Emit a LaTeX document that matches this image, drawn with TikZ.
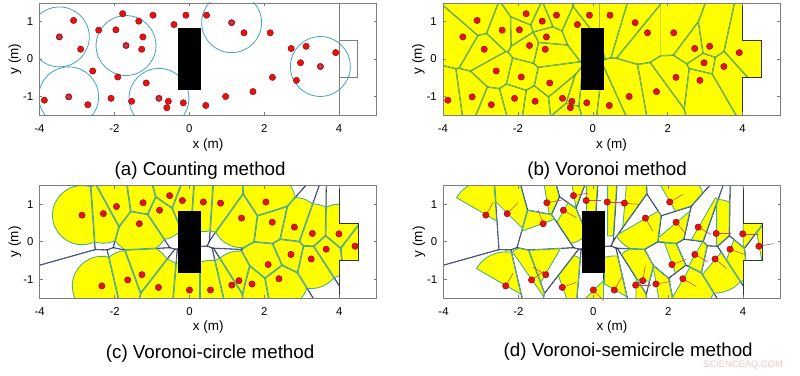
\documentclass[tikz,border=0pt]{standalone}
\usepackage{fontspec}
\setmainfont{Liberation Sans}
\usetikzlibrary{calc}

\definecolor{vyellow}{RGB}{255,255,0}
\definecolor{edgegreen}{RGB}{80,160,95}
\definecolor{celledge}{RGB}{70,170,155}
\definecolor{voronoidark}{RGB}{40,50,90}
\definecolor{circteal}{RGB}{70,165,195}
\definecolor{dotred}{RGB}{225,20,20}
\definecolor{dotrim}{RGB}{165,0,0}
\definecolor{dotcore}{RGB}{110,100,140}
\definecolor{framegray}{RGB}{125,125,125}
\definecolor{headred}{RGB}{210,70,70}
\definecolor{markpink}{RGB}{242,196,204}

% pedestrians, frames (a) and (b)
\def\ptsA{-3.09/1.03, -3.47/0.59, -2.90/0.26, -3.87/-1.10, -3.22/-1.01, -2.71/-1.22,
  -2.58/-0.32, -2.42/0.77, -1.96/0.78, -1.78/1.21, -1.69/0.36, -1.35/1.01, -1.24/0.59,
  -1.27/0.26, -1.91/-0.48, -2.09/-1.05, -1.54/-1.13, -1.15/-0.64, -0.97/1.17, -0.41/0.92,
  -0.09/1.17, 0.46/1.17, -0.81/-1.05, -0.56/-1.13, -0.60/-1.30, -0.16/-1.17, 0.44/-1.24,
  0.97/-1.00, 1.70/-0.87, 1.13/0.97, 1.46/0.70, 2.16/0.70, 2.72/0.28, 3.12/0.34,
  2.97/-0.10, 3.50/-0.20, 3.91/0.17, 2.86/-0.57, 2.22/-0.49}
\def\ctrA{-3.47/0.59, -3.22/-1.01, -1.69/0.36, -0.81/-1.05, 1.13/0.97, 3.50/-0.20}
% pedestrians, frames (c) and (d)
\def\ptsC{-2.87/0.71, -2.30/0.75, -1.95/0.94, -1.24/1.04, -0.53/1.23, -0.19/1.10,
  0.37/1.06, 0.83/1.03, -0.80/0.84, -1.34/0.48, 2.04/1.06, 1.39/0.63, 2.21/0.52,
  2.80/0.39, 3.28/0.22, 3.99/0.21, 4.42/-0.12, 3.65/-0.20, 3.25/-0.46, 2.71/-0.34,
  2.10/-0.61, 2.39/-0.99, 1.67/-1.13, 1.32/-1.04, 1.13/-1.16, 0.56/-1.29, 0.00/-1.29,
  -0.83/-1.22, -1.27/-0.88, -1.65/-1.02, -2.34/-1.18}
\def\ptsD{-2.87/0.71, -2.30/0.75, -1.24/1.04, -0.53/1.23, -0.19/1.10,
  0.37/1.06, 0.83/1.03, -0.80/0.84, -1.34/0.48, 2.04/1.06, 1.39/0.63, 2.21/0.52,
  2.80/0.39, 3.28/0.22, 3.99/0.21, 4.42/-0.12, 3.65/-0.20, 3.25/-0.46, 2.71/-0.34,
  2.10/-0.61, 2.39/-0.99, 1.67/-1.13, 1.32/-1.04, 1.13/-1.16, 0.56/-1.29, 0.00/-1.29,
  -0.83/-1.22, -1.27/-0.88, -1.65/-1.02, -2.34/-1.18}
\def\hdgD{60,45,10,10,0,0,-5,-30,110,30,-60,-50,-30,0,0,10,-20,-40,-30,20,-30,10,80,0,60,-45,20,150,35,60}

\newcommand{\roomclip}{\clip (-4,-1.5) -- (4,-1.5) -- (4,-0.5) -- (4.5,-0.5) -- (4.5,0.5)
  -- (4,0.5) -- (4,1.5) -- (-4,1.5) -- cycle;}
\newcommand{\roomwall}[1]{\draw[#1] (4,1.5) -- (4,0.5) -- (4.5,0.5) -- (4.5,-0.5) -- (4,-0.5) -- (4,-1.5);}

% #1 cell number, #2/#3 its pedestrian, #4 all pedestrians
\newcommand{\cellclip}[4]{%
  \foreach \px/\py [count=\otherno] in #4 {%
    \ifnum\otherno=#1\relax\else
      \coordinate (mid) at ($(#2,#3)!0.5!(\px,\py)$);
      \clip ($(mid)!40cm!90:(\px,\py)$) -- ($(mid)!80cm!180:(\px,\py)$)
        -- ($(mid)!40cm!-90:(\px,\py)$) -- cycle;
    \fi}}
\newcommand{\celledges}[5]{%
  \foreach \px/\py [count=\otherno] in #4 {%
    \ifnum\otherno=#1\relax\else
      \coordinate (mid) at ($(#2,#3)!0.5!(\px,\py)$);
      \draw[#5] ($(mid)!40cm!90:(\px,\py)$) -- ($(mid)!40cm!-90:(\px,\py)$);
    \fi}}

\newcommand{\axesbox}[1]{%
  \draw[framegray, line width=0.5pt] (-4,-1.5) rectangle (5,1.5);
  \foreach \t [count=\n] in {-4,-2,0,2,4} {%
    \draw[framegray, line width=0.5pt] (\t,-1.5) -- ++(0,0.08) (\t,1.5) -- ++(0,-0.08);
    \node[ticklabel] (#1x\n) at (\t,-1.86) {\t};}
  \foreach \t [count=\n] in {-1,0,1} {%
    \draw[framegray, line width=0.5pt] (-4,\t) -- ++(0.08,0) (5,\t) -- ++(-0.08,0);
    \node[ticklabel, anchor=east] (#1y\n) at (-4.13,\t) {\t};}
  \node[axlabel] (#1xlab) at (0.5,-2.29) {x (m)};
  \node[axlabel, rotate=90] (#1ylab) at (-4.66,0) {y (m)};}

\begin{document}
\begin{tikzpicture}
	\tikzstyle{ticklabel}=[font=\fontsize{9.7}{11}\selectfont, inner sep=1pt]
	\tikzstyle{axlabel}=[font=\fontsize{11.5}{13}\selectfont, inner sep=1pt]
	\tikzstyle{caption}=[font=\fontsize{16}{19}\selectfont, inner sep=1pt]
	\tikzstyle{person}=[fill=dotred, draw=dotrim, line width=0.4pt]
	\tikzstyle{obstacle}=[fill=black]
	\tikzstyle{panel}=[x=1.1235cm, y=1.1235cm]
	\useasboundingbox (0,-11.25) rectangle (24,0);

	% (a)
	\begin{scope}[shift={(5.679,-1.77)}, panel]
		\begin{scope}
			\clip (-4,-1.5) rectangle (5,1.5);
			\foreach \x/\y in \ctrA \draw[circteal, line width=0.7pt] (\x,\y) circle (0.8);
		\end{scope}
		\draw[framegray, line width=0.6pt] (4,1.5) -- (4,-1.5) (4,0.5) -- (4.5,0.5) -- (4.5,-0.5) -- (4,-0.5);
		\fill[obstacle] (-0.31,-0.83) rectangle (0.31,0.83);
		\foreach \x/\y in \ptsA \filldraw[person] (\x,\y) circle[radius=2.7pt];
		\foreach \x/\y in \ctrA \fill[dotcore] (\x,\y) circle[radius=1.5pt];
		\axesbox{a}
		\node[caption] (capa) at (0.29,-2.98) {(a) Counting method};
	\end{scope}

	% (b)
	\begin{scope}[shift={(17.784,-1.77)}, panel]
		\foreach \x/\y [count=\i] in \ptsA {
			\begin{scope}
				\roomclip
				\cellclip{\i}{\x}{\y}{\ptsA}
				\fill[vyellow] (-4,-1.5) rectangle (4.5,1.5);
				\celledges{\i}{\x}{\y}{\ptsA}{edgegreen, line width=1.2pt}
			\end{scope}}
		\roomwall{black!80, line width=0.6pt}
		\fill[obstacle] (-0.31,-0.83) rectangle (0.31,0.83);
		\foreach \x/\y in \ptsA \filldraw[person] (\x,\y) circle[radius=2.7pt];
		\axesbox{b}
		\node[caption] (capb) at (0.38,-2.98) {(b) Voronoi method};
	\end{scope}

	% (c)
	\begin{scope}[shift={(5.685,-7.251)}, panel]
		\foreach \x/\y [count=\i] in \ptsC {
			\begin{scope}
				\roomclip
				\cellclip{\i}{\x}{\y}{\ptsC}
				\celledges{\i}{\x}{\y}{\ptsC}{voronoidark, line width=0.9pt}
				\clip (\x,\y) circle (0.8);
				\fill[vyellow] (\x,\y) circle (0.8);
				\draw[celledge, line width=1.4pt] (\x,\y) circle (0.8);
				\celledges{\i}{\x}{\y}{\ptsC}{celledge, line width=1.4pt}
			\end{scope}}
		\roomwall{black!80, line width=0.6pt}
		\fill[obstacle] (-0.31,-0.83) rectangle (0.31,0.83);
		\foreach \x/\y in \ptsC \filldraw[person] (\x,\y) circle[radius=2.7pt];
		\axesbox{c}
		\node[caption] (capc) at (0.55,-2.98) {(c) Voronoi-circle method};
	\end{scope}

	% (d)
	\begin{scope}[shift={(17.8,-7.251)}, panel]
		\foreach \x/\y [count=\i] in \ptsD {
			\pgfmathsetmacro\h{{\hdgD}[\i-1]}
			\begin{scope}
				\roomclip
				\cellclip{\i}{\x}{\y}{\ptsD}
				\celledges{\i}{\x}{\y}{\ptsD}{voronoidark, line width=0.9pt}
				\clip (\x,\y) -- ++(\h+90:0.92) arc[start angle=\h+90, end angle=\h-90, radius=0.92] -- cycle;
				\fill[vyellow] (-4,-1.5) rectangle (4.5,1.5);
				\draw[celledge, line width=1.4pt] (\x,\y) -- ++(\h+90:0.92) arc[start angle=\h+90, end angle=\h-90, radius=0.92] -- cycle;
				\celledges{\i}{\x}{\y}{\ptsD}{celledge, line width=1.4pt}
			\end{scope}}
		\roomwall{black!80, line width=0.6pt}
		\fill[obstacle] (-0.31,-0.83) rectangle (0.31,0.83);
		\foreach \x/\y [count=\i] in \ptsD {
			\pgfmathsetmacro\h{{\hdgD}[\i-1]}
			\draw[headred, line width=0.5pt] (\x,\y) -- ++(\h:0.4);}
		\foreach \x/\y in \ptsD \filldraw[person] (\x,\y) circle[radius=2.7pt];
		\axesbox{d}
		\node[caption] (capd) at (0.93,-2.94) {(d) Voronoi-semicircle method};
	\end{scope}

	\node[text=markpink, font=\fontsize{8}{9}\selectfont] (mark) at (22.29,-10.95) {SCIENCEAQ.COM};
\end{tikzpicture}
\end{document}
